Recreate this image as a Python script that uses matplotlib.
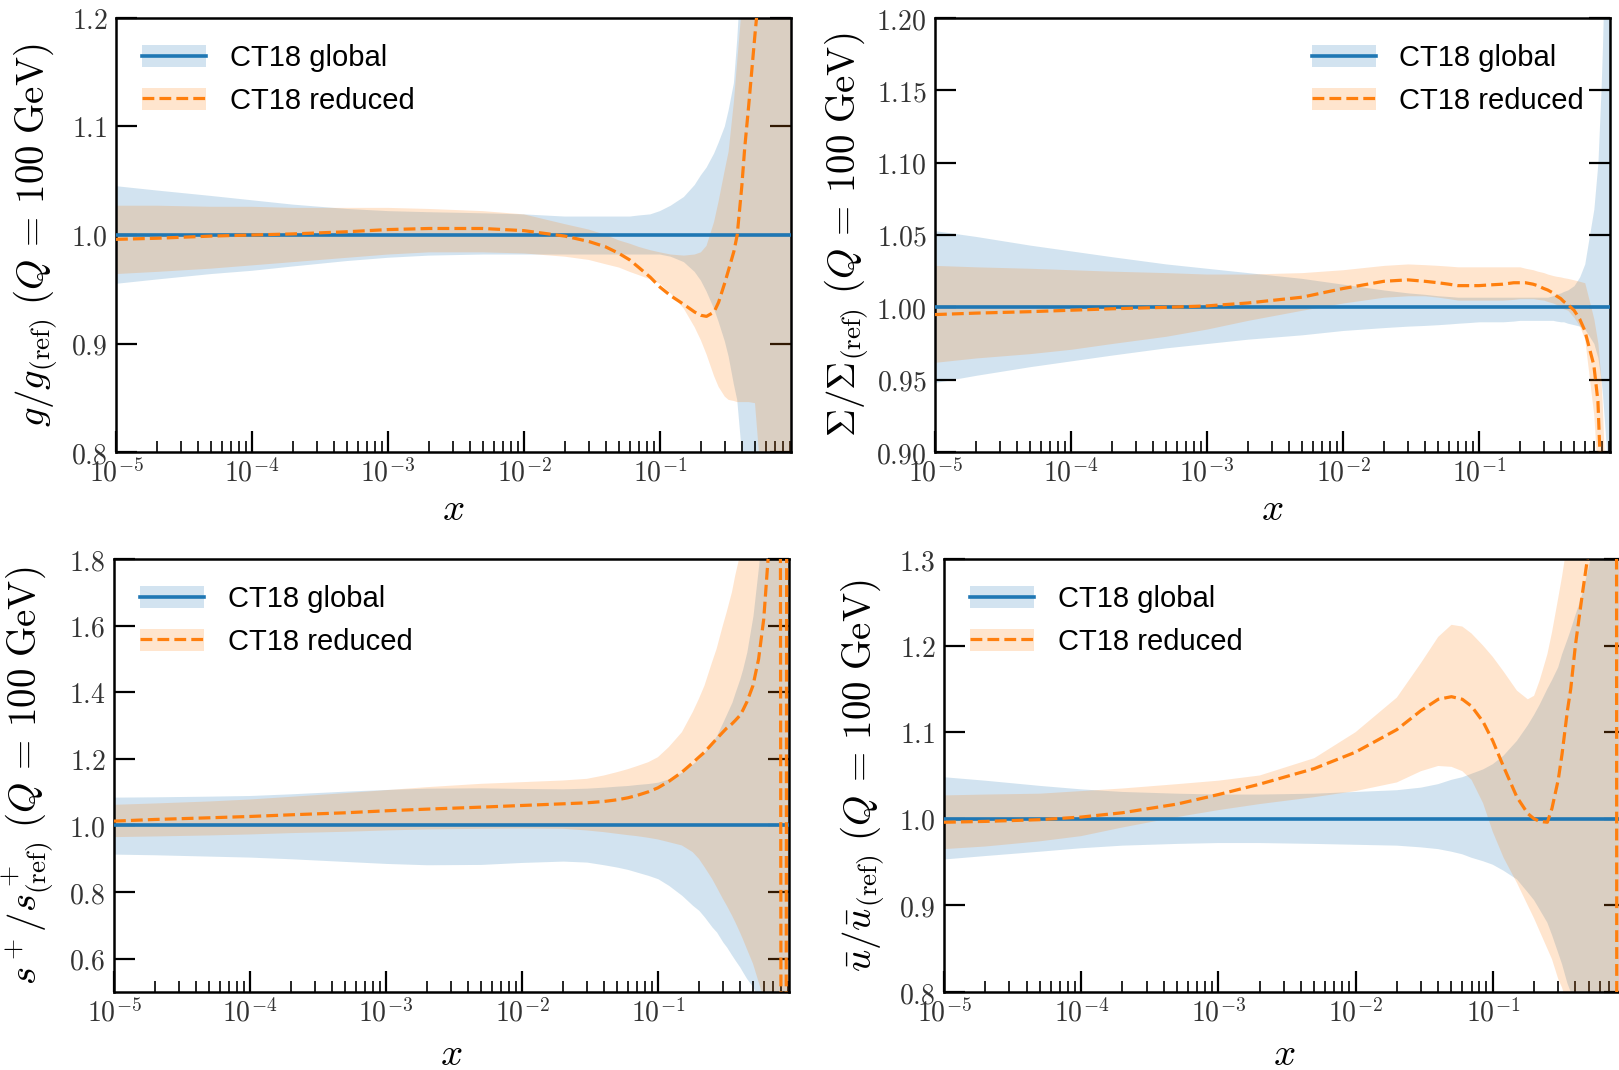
import numpy as np
import matplotlib
matplotlib.use('Agg')
import matplotlib.pyplot as plt
from matplotlib.patches import Patch
from matplotlib.lines import Line2D
from matplotlib.ticker import FixedLocator, FuncFormatter, LogLocator, NullFormatter

plt.rcParams['mathtext.fontset'] = 'cm'

# x grid shared by all panels
x = [1e-5, 2e-5, 5e-5, 1e-4, 2e-4, 5e-4, 1e-3, 2e-3, 5e-3, 1e-2,
     0.02, 0.03, 0.04, 0.05, 0.06, 0.07, 0.085, 0.1, 0.12, 0.15,
     0.18, 0.2, 0.22, 0.25, 0.27, 0.3, 0.32, 0.35, 0.37, 0.4,
     0.42, 0.45, 0.5, 0.55, 0.6, 0.7, 0.75, 0.79, 0.81, 0.87, 0.89, 0.93]

# gluon
g_glob_hi = [1.045, 1.041, 1.036, 1.032, 1.028, 1.024, 1.022, 1.021, 1.020, 1.019,
             1.017, 1.017, 1.017, 1.017, 1.017, 1.018, 1.019, 1.022, 1.027, 1.035,
             1.046, 1.055, 1.062, 1.075, 1.085, 1.100, 1.115, 1.140, 1.180, 1.250,
             1.300, 1.350, 1.450, 1.520, 1.600, 1.800, 1.900, 2.000, 2.050, 2.200, 2.250, 2.300]
g_glob_lo = [0.955, 0.959, 0.964, 0.967, 0.971, 0.976, 0.979, 0.981, 0.982, 0.982,
             0.982, 0.982, 0.982, 0.982, 0.982, 0.982, 0.982, 0.982, 0.980, 0.975,
             0.966, 0.958, 0.948, 0.932, 0.920, 0.902, 0.888, 0.862, 0.848, 0.800,
             0.780, 0.750, 0.700, 0.660, 0.620, 0.550, 0.500, 0.450, 0.420, 0.350, 0.300, 0.250]
g_red_mid = [0.996, 0.997, 0.999, 1.000, 1.001, 1.003, 1.005, 1.006, 1.006, 1.004,
             0.999, 0.994, 0.989, 0.983, 0.977, 0.970, 0.961, 0.952, 0.944, 0.936,
             0.929, 0.926, 0.925, 0.929, 0.938, 0.956, 0.968, 0.985, 1.000, 1.045,
             1.080, 1.120, 1.185, 1.240, 1.300, 1.400, 1.450, 1.500, 1.520, 1.580, 1.600, 1.620]
g_red_hi = [1.027, 1.027, 1.026, 1.026, 1.025, 1.025, 1.025, 1.024, 1.022, 1.019,
            1.010, 1.005, 1.000, 0.995, 0.992, 0.989, 0.986, 0.984, 0.982, 0.981,
            0.982, 0.984, 0.990, 1.012, 1.031, 1.060, 1.077, 1.123, 1.160, 1.210,
            1.260, 1.300, 1.400, 1.500, 1.600, 1.800, 1.900, 2.000, 2.050, 2.200, 2.250, 2.300]
g_red_lo = [0.964, 0.966, 0.969, 0.972, 0.975, 0.979, 0.982, 0.984, 0.984, 0.983,
            0.980, 0.977, 0.973, 0.970, 0.966, 0.963, 0.959, 0.955, 0.946, 0.932,
            0.915, 0.903, 0.890, 0.870, 0.860, 0.851, 0.848, 0.847, 0.846, 0.846,
            0.846, 0.846, 0.845, 0.780, 0.700, 0.550, 0.500, 0.450, 0.420, 0.350, 0.300, 0.250]

# singlet
S_glob_hi = [1.053, 1.049, 1.043, 1.039, 1.035, 1.030, 1.027, 1.024, 1.020, 1.016,
             1.012, 1.010, 1.009, 1.008, 1.0075, 1.007, 1.007, 1.007, 1.007, 1.007,
             1.007, 1.007, 1.007, 1.007, 1.007, 1.007, 1.007, 1.008, 1.009, 1.010,
             1.011, 1.012, 1.015, 1.021, 1.030, 1.068, 1.100, 1.150, 1.180, 1.300, 1.350, 1.450]
S_glob_lo = [0.948, 0.953, 0.959, 0.963, 0.967, 0.972, 0.975, 0.978, 0.981, 0.984,
             0.986, 0.987, 0.9875, 0.988, 0.9885, 0.989, 0.9895, 0.990, 0.990, 0.990,
             0.9905, 0.991, 0.991, 0.991, 0.991, 0.991, 0.991, 0.991, 0.9905, 0.990,
             0.990, 0.989, 0.988, 0.987, 0.985, 0.975, 0.965, 0.950, 0.940, 0.900, 0.870, 0.800]
S_red_mid = [0.995, 0.996, 0.997, 0.998, 0.999, 1.000, 1.001, 1.003, 1.007, 1.013,
             1.018, 1.019, 1.018, 1.017, 1.016, 1.015, 1.015, 1.015, 1.0155, 1.016,
             1.017, 1.017, 1.017, 1.016, 1.015, 1.013, 1.012, 1.010, 1.008, 1.006,
             1.004, 1.002, 0.998, 0.992, 0.984, 0.960, 0.935, 0.880, 0.850, 0.750, 0.700, 0.600]
S_red_hi = [1.029, 1.028, 1.027, 1.026, 1.025, 1.024, 1.023, 1.023, 1.024, 1.026,
            1.029, 1.030, 1.0295, 1.029, 1.0285, 1.028, 1.028, 1.028, 1.028, 1.028,
            1.028, 1.028, 1.027, 1.026, 1.025, 1.024, 1.023, 1.022, 1.0215, 1.021,
            1.0205, 1.020, 1.019, 1.018, 1.017, 0.992, 0.975, 0.950, 0.930, 0.850, 0.800, 0.700]
S_red_lo = [0.962, 0.965, 0.968, 0.971, 0.975, 0.980, 0.985, 0.991, 0.998, 1.003,
            1.007, 1.008, 1.008, 1.007, 1.006, 1.005, 1.005, 1.005, 1.005, 1.005,
            1.0055, 1.006, 1.006, 1.006, 1.0055, 1.005, 1.004, 1.003, 1.002, 1.000,
            0.999, 0.998, 0.993, 0.987, 0.978, 0.925, 0.880, 0.820, 0.800, 0.700, 0.650, 0.550]

# strange
s_glob_hi = [1.085, 1.086, 1.088, 1.090, 1.095, 1.103, 1.108, 1.112, 1.113, 1.111,
             1.110, 1.112, 1.115, 1.118, 1.120, 1.123, 1.126, 1.130, 1.140, 1.160,
             1.185, 1.200, 1.220, 1.250, 1.270, 1.310, 1.335, 1.370, 1.400, 1.440,
             1.470, 1.520, 1.630, 1.780, 1.950, 2.300, 2.500, 2.700, 2.800, 3.000, 3.100, 3.200]
s_glob_lo = [0.914, 0.912, 0.908, 0.905, 0.900, 0.892, 0.886, 0.882, 0.883, 0.889,
             0.893, 0.890, 0.882, 0.875, 0.868, 0.860, 0.850, 0.840, 0.820, 0.790,
             0.760, 0.745, 0.725, 0.695, 0.680, 0.650, 0.635, 0.610, 0.595, 0.575,
             0.560, 0.540, 0.515, 0.480, 0.450, 0.380, 0.350, 0.300, 0.280, 0.200, 0.150, 0.100]
s_red_mid = [1.013, 1.018, 1.023, 1.027, 1.032, 1.038, 1.044, 1.049, 1.055, 1.060,
             1.065, 1.068, 1.072, 1.077, 1.083, 1.090, 1.101, 1.113, 1.132, 1.160,
             1.188, 1.205, 1.220, 1.245, 1.260, 1.280, 1.292, 1.305, 1.315, 1.330,
             1.345, 1.370, 1.420, 1.500, 1.620, 2.000, 2.600, 3.000, -1.000, -1.000, 3.000, 3.000]
s_red_hi = [1.062, 1.066, 1.072, 1.078, 1.086, 1.097, 1.106, 1.115, 1.125, 1.130,
            1.135, 1.140, 1.150, 1.160, 1.169, 1.178, 1.190, 1.205, 1.235, 1.280,
            1.340, 1.380, 1.420, 1.490, 1.530, 1.600, 1.640, 1.700, 1.750, 1.810,
            1.860, 1.950, 2.100, 2.250, 2.400, 2.700, 2.850, 3.000, 3.100, 3.300, 3.400, 3.500]
s_red_lo = [0.965, 0.967, 0.970, 0.973, 0.977, 0.981, 0.985, 0.988, 0.990, 0.991,
            0.990, 0.985, 0.980, 0.975, 0.971, 0.968, 0.963, 0.958, 0.950, 0.940,
            0.920, 0.900, 0.875, 0.840, 0.815, 0.780, 0.760, 0.730, 0.710, 0.680,
            0.660, 0.630, 0.585, 0.530, 0.480, 0.400, 0.350, 0.300, 0.280, 0.200, 0.150, 0.100]

# ubar
u_glob_hi = [1.048, 1.044, 1.038, 1.034, 1.031, 1.029, 1.028, 1.028, 1.029, 1.031,
             1.033, 1.036, 1.040, 1.045, 1.048, 1.052, 1.057, 1.063, 1.073, 1.090,
             1.108, 1.120, 1.132, 1.150, 1.160, 1.175, 1.190, 1.207, 1.218, 1.235,
             1.245, 1.260, 1.290, 1.320, 1.350, 1.450, 1.500, 1.550, 1.600, 1.700, 1.750, 1.800]
u_glob_lo = [0.953, 0.957, 0.962, 0.966, 0.969, 0.971, 0.972, 0.972, 0.971, 0.970,
             0.969, 0.967, 0.965, 0.962, 0.959, 0.955, 0.951, 0.947, 0.940, 0.930,
             0.915, 0.906, 0.895, 0.880, 0.866, 0.845, 0.832, 0.810, 0.800, 0.780,
             0.770, 0.750, 0.720, 0.690, 0.650, 0.580, 0.550, 0.520, 0.500, 0.450, 0.420, 0.400]
u_red_mid = [0.996, 0.997, 0.999, 1.002, 1.007, 1.017, 1.028, 1.040, 1.058, 1.077,
             1.103, 1.125, 1.138, 1.141, 1.138, 1.130, 1.112, 1.090, 1.060, 1.025,
             1.006, 1.000, 0.997, 0.996, 1.012, 1.045, 1.075, 1.125, 1.150, 1.200,
             1.225, 1.260, 1.310, 1.400, 1.600, 2.000, 2.600, 3.000, -1.000, -1.000, 3.000, 3.000]
u_red_hi = [1.027, 1.028, 1.029, 1.032, 1.035, 1.040, 1.044, 1.050, 1.070, 1.100,
            1.140, 1.180, 1.210, 1.224, 1.222, 1.214, 1.200, 1.187, 1.170, 1.148,
            1.138, 1.142, 1.160, 1.190, 1.215, 1.255, 1.280, 1.320, 1.350, 1.400,
            1.440, 1.500, 1.600, 1.700, 1.800, 2.000, 2.100, 2.200, 2.250, 2.400, 2.450, 2.500]
u_red_lo = [0.965, 0.968, 0.974, 0.980, 0.990, 1.002, 1.010, 1.017, 1.025, 1.032,
            1.042, 1.055, 1.061, 1.060, 1.055, 1.045, 1.018, 0.985, 0.955, 0.926,
            0.900, 0.885, 0.870, 0.850, 0.838, 0.815, 0.805, 0.785, 0.770, 0.750,
            0.735, 0.720, 0.690, 0.655, 0.620, 0.550, 0.500, 0.450, 0.420, 0.350, 0.300, 0.250]

labels = ['CT18 global', 'CT18 reduced']
c_glob = '#1f77b4'
c_red = '#ff7f0e'

Q_TAIL = r'\ (Q\,=\,100\ {\rm GeV})$'
panels = [
    dict(rect=[116/1619, 1-452/1070, 675/1619, 434/1070],
         ylabel=r'$g/g_{\rm (ref)}' + Q_TAIL, ylx=-0.085, xly=-0.087,
         ylim=(0.8, 1.2), yticks=[0.8, 0.9, 1.0, 1.1, 1.2], fmt='%.1f',
         data=(g_glob_lo, g_glob_hi, g_red_lo, g_red_mid, g_red_hi), loc='upper left'),
    dict(rect=[935/1619, 1-452/1070, 675/1619, 434/1070],
         ylabel=r'$\Sigma/\Sigma_{\rm (ref)}' + Q_TAIL, ylx=-0.097, xly=-0.087,
         ylim=(0.9, 1.2), yticks=[0.90, 0.95, 1.00, 1.05, 1.10, 1.15, 1.20], fmt='%.2f',
         data=(S_glob_lo, S_glob_hi, S_red_lo, S_red_mid, S_red_hi), loc='upper right'),
    dict(rect=[114/1619, 1-992/1070, 675/1619, 433/1070],
         ylabel=r'$s^+/s^+_{\rm (ref)}' + Q_TAIL, ylx=-0.087, xly=-0.100,
         ylim=(0.5, 1.8), yticks=[0.6, 0.8, 1.0, 1.2, 1.4, 1.6, 1.8], fmt='%.1f',
         data=(s_glob_lo, s_glob_hi, s_red_lo, s_red_mid, s_red_hi), loc='upper left'),
    dict(rect=[944/1619, 1-992/1070, 681/1619, 433/1070],
         ylabel=r'$\bar{u}/\bar{u}_{\rm (ref)}' + Q_TAIL, ylx=-0.085, xly=-0.100,
         ylim=(0.8, 1.3), yticks=[0.8, 0.9, 1.0, 1.1, 1.2, 1.3], fmt='%.1f',
         data=(u_glob_lo, u_glob_hi, u_red_lo, u_red_mid, u_red_hi), loc='upper left'),
]

fig = plt.figure(figsize=(16.19, 10.70), dpi=100)

for p in panels:
    ax = fig.add_axes(p['rect'])
    glo, ghi, rlo, rmid, rhi = p['data']
    ax.fill_between(x, glo, ghi, color=c_glob, alpha=0.2, lw=0, zorder=1)
    ax.fill_between(x, rlo, rhi, color=c_red, alpha=0.2, lw=0, zorder=2)
    ax.plot(x, [1.0] * len(x), color=c_glob, lw=2.6, zorder=3)
    ax.plot(x, rmid, color=c_red, lw=2.3, ls='--', zorder=4)

    ax.set_xscale('log')
    ax.set_xlim(1e-5, 0.92)
    ax.set_ylim(*p['ylim'])
    ax.xaxis.set_major_locator(FixedLocator([1e-5, 1e-4, 1e-3, 1e-2, 1e-1]))
    ax.xaxis.set_major_formatter(FuncFormatter(lambda v, pos: r'$10^{%d}$' % round(np.log10(v))))
    ax.xaxis.set_minor_locator(LogLocator(base=10, subs=np.arange(2, 10), numticks=20))
    ax.xaxis.set_minor_formatter(NullFormatter())
    ax.yaxis.set_major_locator(FixedLocator(p['yticks']))
    ax.yaxis.set_major_formatter(FuncFormatter(lambda v, pos, f=p['fmt']: '$' + f % v + '$'))

    ax.tick_params(axis='x', which='major', direction='in', length=15, width=1.6,
                   labelsize=20, pad=5, labelcolor='#333333', top=False)
    ax.tick_params(axis='x', which='minor', direction='in', length=8, width=1.2, top=False)
    ax.tick_params(axis='y', which='major', direction='in', length=15, width=1.6,
                   labelsize=20, pad=6, labelcolor='#333333', left=True, right=True)
    for s in ax.spines.values():
        s.set_linewidth(1.8)

    ax.set_xlabel(r'$x$', fontsize=28)
    ax.xaxis.set_label_coords(0.5, p['xly'])
    ax.set_ylabel(p['ylabel'], fontsize=28)
    ax.yaxis.set_label_coords(p['ylx'], 0.5)

    handles = [(Patch(facecolor=c_glob, alpha=0.2, lw=0), Line2D([], [], color=c_glob, lw=2.6)),
               (Patch(facecolor=c_red, alpha=0.2, lw=0), Line2D([], [], color=c_red, lw=2.3, ls='--'))]
    ax.legend(handles, labels, loc=p['loc'], frameon=False,
              prop={'family': 'Liberation Sans', 'size': 21},
              handlelength=2.2, handleheight=0.8, handletextpad=0.8, labelspacing=0.5)

fig.savefig('out.png', dpi=100)
